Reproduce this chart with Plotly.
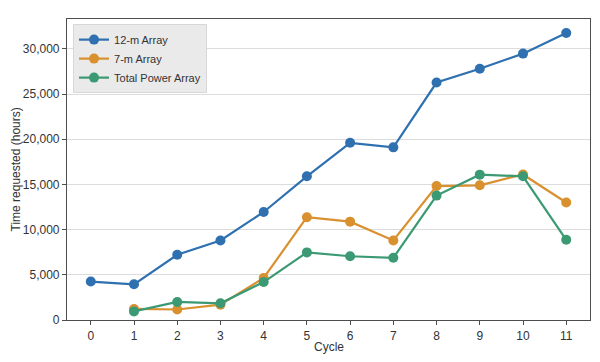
import plotly.graph_objects as go

cycles_12m = [0, 1, 2, 3, 4, 5, 6, 7, 8, 9, 10, 11]
hours_12m = [4250, 3950, 7220, 8800, 11950, 15900, 19600, 19100, 26270, 27800, 29470, 31750]
cycles_7m = [1, 2, 3, 4, 5, 6, 7, 8, 9, 10, 11]
hours_7m = [1220, 1160, 1700, 4650, 11370, 10880, 8800, 14820, 14900, 16100, 13000]
cycles_tp = [1, 2, 3, 4, 5, 6, 7, 8, 9, 10, 11]
hours_tp = [950, 2000, 1850, 4200, 7480, 7050, 6880, 13760, 16080, 15900, 8870]

names = ["12-m Array", "7-m Array", "Total Power Array"]
colors = ["#2f70b0", "#d9902f", "#3b9a73"]
x_ticks = list(range(12))
y_ticks = [0, 5000, 10000, 15000, 20000, 25000, 30000]
y_tick_labels = ["0", "5,000", "10,000", "15,000", "20,000", "25,000", "30,000"]

FONT = "Liberation Sans, Arial, sans-serif"

fig = go.Figure()
for xs, ys, nm, c in zip([cycles_12m, cycles_7m, cycles_tp],
                         [hours_12m, hours_7m, hours_tp], names, colors):
    fig.add_trace(go.Scatter(x=xs, y=ys, name=nm, mode="lines+markers",
                             line=dict(color=c, width=2.2),
                             marker=dict(color=c, size=10)))

axis_common = dict(showline=True, linecolor="#4d4d4d", linewidth=1.2, mirror=True,
                   ticks="outside", ticklen=4, tickcolor="#4d4d4d", zeroline=False,
                   automargin=False,
                   tickfont=dict(family=FONT, size=12, color="#333"))
fig.update_xaxes(range=[-0.55, 11.55], tickvals=x_ticks, showgrid=False, **axis_common)
fig.update_yaxes(range=[0, 33300], tickvals=y_ticks, ticktext=y_tick_labels,
                 showgrid=True, gridcolor="#dcdcdc", gridwidth=1, **axis_common)

fig.add_annotation(text="Cycle", xref="paper", yref="paper", x=0.5, y=0,
                   yshift=-18, xanchor="center", yanchor="top", showarrow=False,
                   font=dict(family=FONT, size=12, color="#333"))
fig.add_annotation(text="Time requested (hours)", xref="paper", yref="paper",
                   x=0, y=0.5, xshift=-43, xanchor="right", yanchor="middle",
                   textangle=-90, showarrow=False,
                   font=dict(family=FONT, size=12, color="#333"))

fig.update_layout(width=600, height=362,
                  margin=dict(l=67, r=10, t=19, b=42, autoexpand=False),
                  plot_bgcolor="white", paper_bgcolor="white",
                  showlegend=True,
                  legend=dict(x=0.0115, y=0.983, xanchor="left", yanchor="top",
                              bgcolor="#eaeaea", bordercolor="#d8d8d8", borderwidth=1,
                              font=dict(family=FONT, size=11, color="#333"),
                              itemwidth=30, tracegroupgap=0))

fig.write_html("out.html", config={"displayModeBar": False},
               post_script="document.body.style.margin='0';document.body.style.overflow='hidden';")
